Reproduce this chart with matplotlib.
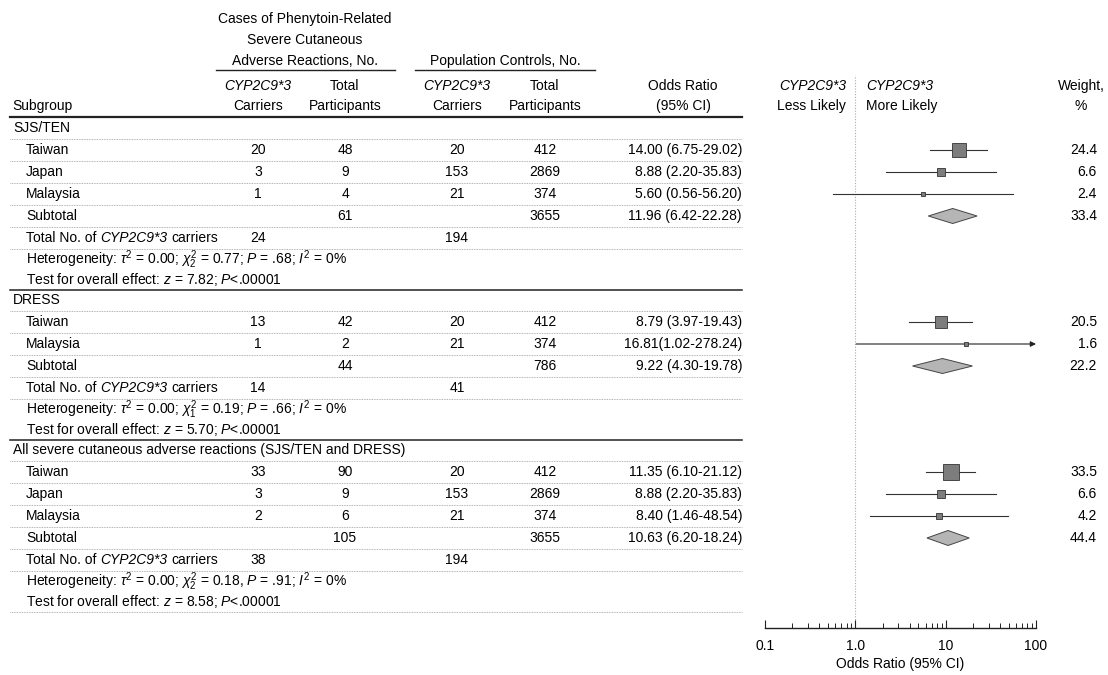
import numpy as np
import matplotlib
matplotlib.use("Agg")
import matplotlib.pyplot as plt
from matplotlib.patches import Polygon

plt.rcParams['font.family'] = ['Liberation Sans', 'DejaVu Sans']
plt.rcParams['font.size'] = 10
plt.rcParams['mathtext.fontset'] = 'custom'
plt.rcParams['mathtext.rm'] = 'Liberation Sans'
plt.rcParams['mathtext.it'] = 'Liberation Sans:italic'

# ---- data ----
sjs_sites = ["Taiwan", "Japan", "Malaysia"]
sjs_case_carriers = [20, 3, 1]
sjs_case_total = [48, 9, 4]
sjs_ctrl_carriers = [20, 153, 21]
sjs_ctrl_total = [412, 2869, 374]
sjs_or = [14.00, 8.88, 5.60]
sjs_lo = [6.75, 2.20, 0.56]
sjs_hi = [29.02, 35.83, 56.20]
sjs_weight = [24.4, 6.6, 2.4]
sjs_subtotal = [61, 3655, 11.96, 6.42, 22.28, 33.4]
sjs_carriers = [24, 194]
sjs_het = r"Heterogeneity: $\tau^2$ = 0.00; $\chi^2_2$ = 0.77; $P$ = .68; $I^2$ = 0%"
sjs_test = r"Test for overall effect: $z$ = 7.82; $P$<.00001"

dress_sites = ["Taiwan", "Malaysia"]
dress_case_carriers = [13, 1]
dress_case_total = [42, 2]
dress_ctrl_carriers = [20, 21]
dress_ctrl_total = [412, 374]
dress_or = [8.79, 16.81]
dress_lo = [3.97, 1.02]
dress_hi = [19.43, 278.24]
dress_weight = [20.5, 1.6]
dress_subtotal = [44, 786, 9.22, 4.30, 19.78, 22.2]
dress_carriers = [14, 41]
dress_het = r"Heterogeneity: $\tau^2$ = 0.00; $\chi^2_1$ = 0.19; $P$ = .66; $I^2$ = 0%"
dress_test = r"Test for overall effect: $z$ = 5.70; $P$<.00001"

all_sites = ["Taiwan", "Japan", "Malaysia"]
all_case_carriers = [33, 3, 2]
all_case_total = [90, 9, 6]
all_ctrl_carriers = [20, 153, 21]
all_ctrl_total = [412, 2869, 374]
all_or = [11.35, 8.88, 8.40]
all_lo = [6.10, 2.20, 1.46]
all_hi = [21.12, 35.83, 48.54]
all_weight = [33.5, 6.6, 4.2]
all_subtotal = [105, 3655, 10.63, 6.20, 18.24, 44.4]
all_carriers = [38, 194]
all_het = r"Heterogeneity: $\tau^2$ = 0.00; $\chi^2_2$ = 0.18, $P$ = .91; $I^2$ = 0%"
all_test = r"Test for overall effect: $z$ = 8.58; $P$<.00001"

sections = [
    ("SJS/TEN", sjs_sites, sjs_case_carriers, sjs_case_total, sjs_ctrl_carriers, sjs_ctrl_total,
     sjs_or, sjs_lo, sjs_hi, sjs_weight, sjs_subtotal, sjs_carriers, sjs_het, sjs_test),
    ("DRESS", dress_sites, dress_case_carriers, dress_case_total, dress_ctrl_carriers, dress_ctrl_total,
     dress_or, dress_lo, dress_hi, dress_weight, dress_subtotal, dress_carriers, dress_het, dress_test),
    ("All severe cutaneous adverse reactions (SJS/TEN and DRESS)", all_sites, all_case_carriers,
     all_case_total, all_ctrl_carriers, all_ctrl_total, all_or, all_lo, all_hi, all_weight,
     all_subtotal, all_carriers, all_het, all_test),
]


def or_text(o, lo, hi):
    sep = "" if hi >= 100 else " "
    return f"{o:.2f}{sep}({lo:.2f}-{hi:.2f})"


# ---- layout (pixels) ----
W, H = 1108, 675
X_NAME, X_IND = 13, 26
X_CC, X_CT, X_PC, X_PT = 258, 345, 457, 545
X_OR, X_W = 742, 1097
L_LEFT, L_RIGHT = 10, 742
DARK = "#222222"
DOT = "#9a9a9a"

fig = plt.figure(figsize=(W / 100, H / 100), dpi=100)
ax = fig.add_axes([0, 0, 1, 1])
ax.set_xlim(0, W)
ax.set_ylim(H, 0)
ax.axis('off')

FX0, FX1, FY_TOP, FY_AX = 765, 1036, 75, 628
fax = fig.add_axes([FX0 / W, (H - FY_AX) / H, (FX1 - FX0) / W, (FY_AX - FY_TOP) / H])
fax.patch.set_visible(False)
fax.set_xscale('log')
fax.set_xlim(0.1, 100)
fax.set_ylim(FY_AX, FY_TOP)
for s in ['top', 'left', 'right']:
    fax.spines[s].set_visible(False)
fax.spines['bottom'].set_color(DARK)
fax.spines['bottom'].set_linewidth(1.0)
fax.set_yticks([])
fax.set_xticks([0.1, 1, 10, 100])
fax.set_xticklabels(['0.1', '1.0', '10', '100'])
fax.xaxis.set_minor_locator(matplotlib.ticker.LogLocator(base=10, subs=np.arange(2, 10)))
fax.xaxis.set_minor_formatter(matplotlib.ticker.NullFormatter())
fax.tick_params(axis='x', which='major', direction='in', length=6, width=0.8, pad=8,
                color=DARK, labelsize=10)
fax.tick_params(axis='x', which='minor', direction='in', length=3.5, width=0.7, color=DARK)
fax.set_xlabel('Odds Ratio (95% CI)', fontsize=10, labelpad=3)
fax.axvline(1, color='#aaaaaa', ls=(0, (1, 1.5)), lw=0.8, zorder=0)

# ---- column headers ----
ax.text(305, 19, "Cases of Phenytoin-Related", ha='center', va='center')
ax.text(305, 40, "Severe Cutaneous", ha='center', va='center')
ax.text(305, 61, "Adverse Reactions, No.", ha='center', va='center')
ax.text(505, 61, "Population Controls, No.", ha='center', va='center')
ax.plot([216, 395], [70, 70], color=DARK, lw=1.0)
ax.plot([415, 595], [70, 70], color=DARK, lw=1.0)
for xc in (X_CC, X_PC):
    ax.text(xc, 86, "CYP2C9*3", ha='center', va='center', style='italic')
    ax.text(xc, 106, "Carriers", ha='center', va='center')
for xc in (X_CT, X_PT):
    ax.text(xc, 86, "Total", ha='center', va='center')
    ax.text(xc, 106, "Participants", ha='center', va='center')
ax.text(683, 86, "Odds Ratio", ha='center', va='center')
ax.text(683, 106, "(95% CI)", ha='center', va='center')
ax.text(X_NAME - 1, 106, "Subgroup", ha='left', va='center')
ax.text(846, 86, "CYP2C9*3", ha='right', va='center', style='italic')
ax.text(846, 106, "Less Likely", ha='right', va='center')
ax.text(866, 86, "CYP2C9*3", ha='left', va='center', style='italic')
ax.text(866, 106, "More Likely", ha='left', va='center')
ax.text(1081, 86, "Weight,", ha='center', va='center')
ax.text(1081, 106, "%", ha='center', va='center')
ax.plot([L_LEFT, L_RIGHT], [117, 117], color=DARK, lw=1.6)


def dotted(y):
    ax.plot([L_LEFT, L_RIGHT], [y, y], color=DOT, ls=(0, (1, 1)), lw=0.6)


def square_size(w):
    return 2.75 * np.sqrt(w) * 0.72


def diamond(o, lo, hi, y):
    h = 7.5
    poly = Polygon([[lo, y], [o, y - h], [hi, y], [o, y + h]], closed=True,
                   facecolor='#b5b5b5', edgecolor='#444444', lw=0.7, zorder=3)
    fax.add_patch(poly)


def carriers_label(y):
    t1 = ax.text(X_IND, y, "Total No. of", ha='left', va='center')
    t2 = ax.annotate("CYP2C9*3", xy=(1, 0), xycoords=t1, xytext=(2.8, 0),
                     textcoords='offset points', ha='left', va='bottom', style='italic')
    ax.annotate("carriers", xy=(1, 0), xycoords=t2, xytext=(2.8, 0),
                textcoords='offset points', ha='left', va='bottom')


y = 128
for k, sec in enumerate(sections):
    (title, sites, cc, ct, pc, pt, ors, los, his, ws, sub, carr, het, test) = sec
    ax.text(X_NAME, y, title, ha='left', va='center')
    dotted(y + 11)
    for i in range(len(sites)):
        y += 22
        ax.text(X_IND, y, sites[i], ha='left', va='center')
        ax.text(X_CC, y, str(cc[i]), ha='center', va='center')
        ax.text(X_CT, y, str(ct[i]), ha='center', va='center')
        ax.text(X_PC, y, str(pc[i]), ha='center', va='center')
        ax.text(X_PT, y, str(pt[i]), ha='center', va='center')
        ax.text(X_OR, y, or_text(ors[i], los[i], his[i]), ha='right', va='center')
        ax.text(X_W, y, f"{ws[i]:.1f}", ha='right', va='center')
        if his[i] > 100:
            fax.annotate('', xy=(100, y), xytext=(los[i], y),
                         arrowprops=dict(arrowstyle='-|>', color=DARK, lw=0.8,
                                         mutation_scale=8, shrinkA=0, shrinkB=0))
        else:
            fax.plot([los[i], his[i]], [y, y], color='#333333', lw=0.8, zorder=2)
        fax.plot(ors[i], y, marker='s', ms=square_size(ws[i]), mfc='#7d7d7d',
                 mec='#333333', mew=0.6, zorder=3)
        dotted(y + 11)
    y += 22
    ax.text(X_IND, y, "Subtotal", ha='left', va='center')
    ax.text(X_CT, y, str(sub[0]), ha='center', va='center')
    ax.text(X_PT, y, str(sub[1]), ha='center', va='center')
    ax.text(X_OR, y, or_text(sub[2], sub[3], sub[4]), ha='right', va='center')
    ax.text(X_W, y, f"{sub[5]:.1f}", ha='right', va='center')
    diamond(sub[2], sub[3], sub[4], y)
    dotted(y + 11)
    y += 22
    carriers_label(y)
    ax.text(X_CC, y, str(carr[0]), ha='center', va='center')
    ax.text(X_PC, y, str(carr[1]), ha='center', va='center')
    dotted(y + 11)
    y += 22
    ax.text(X_IND, y, het, ha='left', va='center')
    y += 20
    ax.text(X_IND, y, test, ha='left', va='center')
    if k < len(sections) - 1:
        ax.plot([L_LEFT, L_RIGHT], [y + 10, y + 10], color=DARK, lw=1.1)
    else:
        dotted(y + 10)
    y += 20

fig.savefig('out.png', dpi=100)
